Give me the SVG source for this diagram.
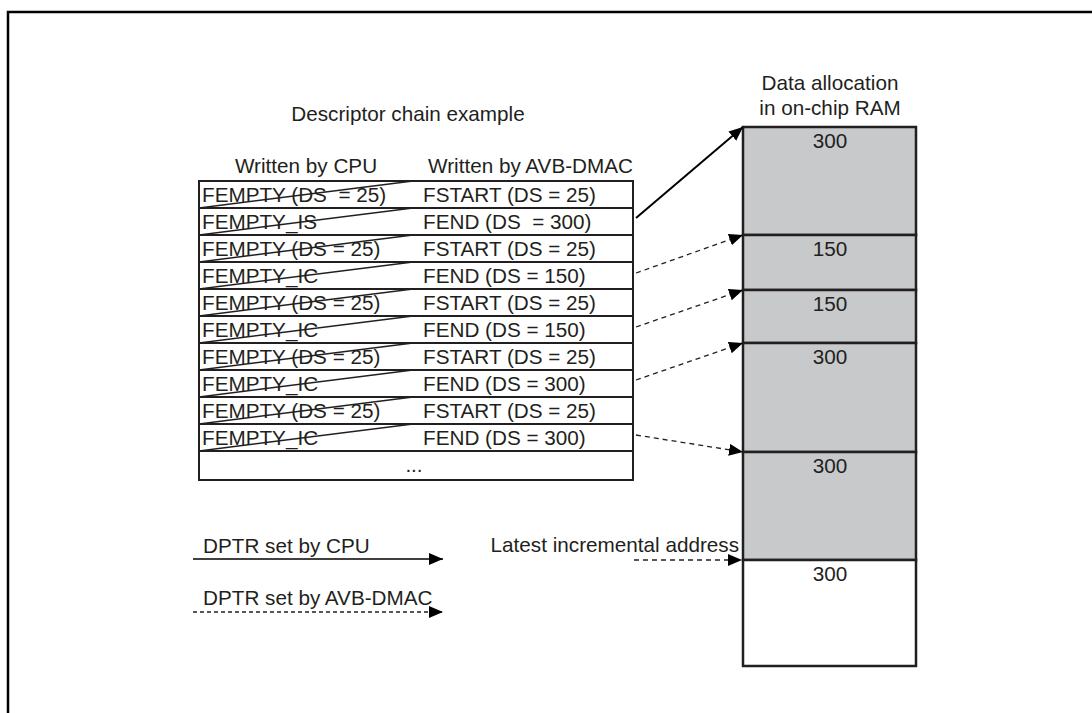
<svg xmlns="http://www.w3.org/2000/svg" width="1092" height="713" viewBox="0 0 1092 713">
<defs>
<style>
text{font-family:"Liberation Sans",Arial,sans-serif;font-size:20.7px;fill:#231f20}
.cell{fill:#fff;stroke:#231f20;stroke-width:2}
.strike{stroke:#231f20;stroke-width:1.6;fill:none}
.ram{fill:#c8c9cb;stroke:#231f20;stroke-width:2.5}
.ramw{fill:#fff;stroke:#231f20;stroke-width:2.5}
.solid{stroke:#000;stroke-width:2;fill:none}
.dash{stroke:#231f20;stroke-width:1.3;fill:none;stroke-dasharray:5 4}
.mid{text-anchor:middle}
</style>
<marker id="ah" markerUnits="userSpaceOnUse" markerWidth="16" markerHeight="14" refX="14" refY="6" orient="auto"><path d="M0,0 L14,6 L0,12 z" fill="#000"/></marker>
</defs>
<rect x="-2" y="-2" width="1096" height="717" fill="#fff"/>
<path d="M8,713 V12 H1092" fill="none" stroke="#000" stroke-width="2.5"/>

<text x="408" y="121" class="mid">Descriptor chain example</text>
<text x="306" y="173" class="mid">Written by CPU</text>
<text x="428" y="173">Written by AVB-DMAC</text>
<text x="830" y="90" class="mid">Data allocation</text>
<text x="830" y="115" class="mid">in on-chip RAM</text>

<g id="table">
<g id="row0"><rect class="cell" x="199" y="181" width="434" height="27"/><text x="202" y="202" xml:space="preserve">FEMPTY (DS  = 25)</text><line class="strike" x1="199" y1="208" x2="413" y2="181"/><text x="423" y="202">FSTART (DS = 25)</text></g>
<g id="row1"><rect class="cell" x="199" y="208" width="434" height="27"/><text x="202" y="229">FEMPTY_IS</text><line class="strike" x1="199" y1="235" x2="413" y2="208"/><text x="423" y="229" xml:space="preserve">FEND (DS  = 300)</text></g>
<g id="row2"><rect class="cell" x="199" y="235" width="434" height="27"/><text x="202" y="256">FEMPTY (DS = 25)</text><line class="strike" x1="199" y1="262" x2="413" y2="235"/><text x="423" y="256">FSTART (DS = 25)</text></g>
<g id="row3"><rect class="cell" x="199" y="262" width="434" height="27"/><text x="202" y="283">FEMPTY_IC</text><line class="strike" x1="199" y1="289" x2="413" y2="262"/><text x="423" y="283">FEND (DS = 150)</text></g>
<g id="row4"><rect class="cell" x="199" y="289" width="434" height="27"/><text x="202" y="310">FEMPTY (DS = 25)</text><line class="strike" x1="199" y1="316" x2="413" y2="289"/><text x="423" y="310">FSTART (DS = 25)</text></g>
<g id="row5"><rect class="cell" x="199" y="316" width="434" height="27"/><text x="202" y="337">FEMPTY_IC</text><line class="strike" x1="199" y1="343" x2="413" y2="316"/><text x="423" y="337">FEND (DS = 150)</text></g>
<g id="row6"><rect class="cell" x="199" y="343" width="434" height="27"/><text x="202" y="364">FEMPTY (DS = 25)</text><line class="strike" x1="199" y1="370" x2="413" y2="343"/><text x="423" y="364">FSTART (DS = 25)</text></g>
<g id="row7"><rect class="cell" x="199" y="370" width="434" height="27"/><text x="202" y="391">FEMPTY_IC</text><line class="strike" x1="199" y1="397" x2="413" y2="370"/><text x="423" y="391">FEND (DS = 300)</text></g>
<g id="row8"><rect class="cell" x="199" y="397" width="434" height="27"/><text x="202" y="418">FEMPTY (DS = 25)</text><line class="strike" x1="199" y1="424" x2="413" y2="397"/><text x="423" y="418">FSTART (DS = 25)</text></g>
<g id="row9"><rect class="cell" x="199" y="424" width="434" height="27"/><text x="202" y="445">FEMPTY_IC</text><line class="strike" x1="199" y1="451" x2="413" y2="424"/><text x="423" y="445">FEND (DS = 300)</text></g>
<g id="row10"><rect class="cell" x="199" y="451" width="434" height="29"/><text x="414" y="472" class="mid">...</text></g>
</g>

<g id="ram">
<g id="ram0"><rect class="ram" x="743" y="127" width="173" height="108"/><text x="830" y="148" class="mid">300</text></g>
<g id="ram1"><rect class="ram" x="743" y="235" width="173" height="55"/><text x="830" y="256" class="mid">150</text></g>
<g id="ram2"><rect class="ram" x="743" y="290" width="173" height="53"/><text x="830" y="311" class="mid">150</text></g>
<g id="ram3"><rect class="ram" x="743" y="343" width="173" height="109"/><text x="830" y="364" class="mid">300</text></g>
<g id="ram4"><rect class="ram" x="743" y="452" width="173" height="108"/><text x="830" y="473" class="mid">300</text></g>
<g id="ram5"><rect class="ramw" x="743" y="560" width="173" height="106"/><text x="830" y="581" class="mid">300</text></g>
</g>

<g id="connectors">
<line class="solid" x1="636" y1="218" x2="743" y2="127" marker-end="url(#ah)"/>
<line class="dash" x1="636" y1="273" x2="743" y2="235" marker-end="url(#ah)"/>
<line class="dash" x1="636" y1="327" x2="743" y2="290" marker-end="url(#ah)"/>
<line class="dash" x1="636" y1="380" x2="743" y2="343" marker-end="url(#ah)"/>
<line class="dash" x1="636" y1="435" x2="743" y2="452" marker-end="url(#ah)"/>
<line class="dash" x1="634" y1="560" x2="742" y2="560" marker-end="url(#ah)"/>
</g>
<text x="739" y="552" style="text-anchor:end">Latest incremental address</text>

<g id="legend">
<text x="203" y="553">DPTR set by CPU</text>
<line class="solid" style="stroke-width:1.5" x1="193" y1="559" x2="443" y2="559" marker-end="url(#ah)"/>
<text x="203" y="605">DPTR set by AVB-DMAC</text>
<line class="dash" style="stroke-dasharray:4 3" x1="193" y1="612" x2="443" y2="612" marker-end="url(#ah)"/>
</g>
</svg>
